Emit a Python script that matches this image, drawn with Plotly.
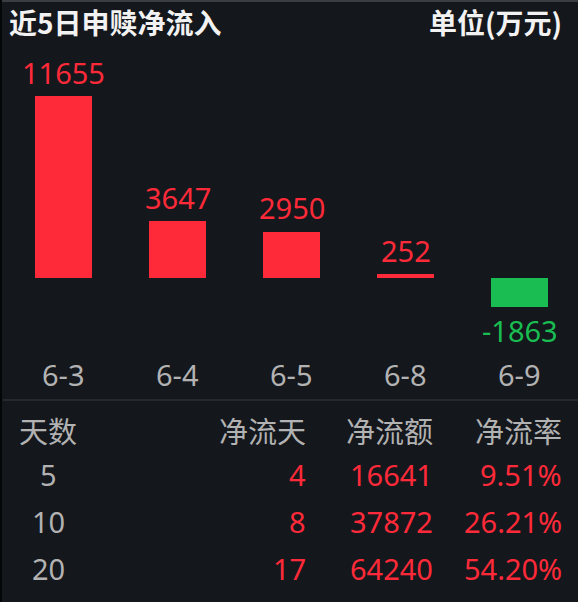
import plotly.graph_objects as go

# data
dates = ["6-3", "6-4", "6-5", "6-8", "6-9"]
net_flow = [11655, 3647, 2950, 252, -1863]

table_header = ["天数", "净流天", "净流额", "净流率"]
days = ["5", "10", "20"]
net_days = ["4", "8", "17"]
net_amount = ["16641", "37872", "64240"]
net_rate = ["9.51%", "26.21%", "54.20%"]

W, H = 578, 602
BG = "#14171c"
RED = "#fe2a39"
GREEN = "#19bd51"
GRAY = "#b2b2b2"
FONT = "Noto Sans, Noto Sans CJK SC"
SIZE = 29

colors = [RED if v >= 0 else GREEN for v in net_flow]

fig = go.Figure()
fig.add_trace(go.Bar(
    x=dates,
    y=net_flow,
    marker=dict(color=colors, line=dict(width=0)),
    width=0.5,
    hoverinfo="skip",
))

# value labels above / below the bars
for d, v, c in zip(dates, net_flow, colors):
    fig.add_annotation(
        x=d, y=v, xref="x", yref="y",
        text=str(v), showarrow=False,
        yanchor="middle",
        yshift=24 if v >= 0 else -23,
        font=dict(family=FONT, size=SIZE, color=c),
    )

# date labels
for d in dates:
    fig.add_annotation(
        x=d, y=1 - 374 / H, xref="x", yref="paper",
        text=d, showarrow=False, yanchor="middle",
        font=dict(family=FONT, size=SIZE, color=GRAY),
    )

# title and unit
fig.add_annotation(
    x=7 / W, y=1 - 22 / H, xref="paper", yref="paper",
    text="近5日申赎净流入", showarrow=False,
    xanchor="left", yanchor="middle",
    font=dict(family="Noto Sans CJK SC", size=28, color="#f2f2f2", weight="bold"),
)
fig.add_annotation(
    x=564 / W, y=1 - 22 / H, xref="paper", yref="paper",
    text="单位(万元)", showarrow=False,
    xanchor="right", yanchor="middle",
    font=dict(family="Noto Sans CJK SC", size=28, color="#f2f2f2", weight="bold"),
)

# table below the chart
col_x = [48, 308, 435, 564]
row_y = [430, 474, 521, 568]
for i, h in enumerate(table_header):
    fig.add_annotation(
        x=col_x[i] / W, y=1 - row_y[0] / H, xref="paper", yref="paper",
        text=h, showarrow=False,
        xanchor="center" if i == 0 else "right", yanchor="middle",
        font=dict(family="Noto Sans CJK SC", size=SIZE, color=GRAY),
    )
for r in range(len(days)):
    row = [days[r], net_days[r], net_amount[r], net_rate[r]]
    for i, t in enumerate(row):
        fig.add_annotation(
            x=col_x[i] / W, y=1 - row_y[r + 1] / H, xref="paper", yref="paper",
            text=t, showarrow=False,
            xanchor="center" if i == 0 else "right", yanchor="middle",
            font=dict(family=FONT, size=SIZE, color=GRAY if i == 0 else RED),
        )

# separator and frame edges
fig.add_shape(type="line", xref="paper", yref="paper",
              x0=3 / W, x1=1, y0=1 - 400 / H, y1=1 - 400 / H,
              line=dict(color="#2e3137", width=1.5))
fig.add_shape(type="line", xref="paper", yref="paper",
              x0=0, x1=1, y0=1 - 1 / H, y1=1 - 1 / H,
              line=dict(color="#3a3d42", width=2))
fig.add_shape(type="line", xref="paper", yref="paper",
              x0=1 / W, x1=1 / W, y0=0, y1=1,
              line=dict(color="#050607", width=2))

# zero line at 278px from top, 182px for 11655
px_per_unit = 182 / 11655
fig.update_yaxes(
    range=[-(H - 278) / px_per_unit, 278 / px_per_unit],
    visible=False, fixedrange=True,
)
fig.update_xaxes(
    domain=[6.5 / W, 576.5 / W],
    visible=False, fixedrange=True,
)
fig.update_layout(
    width=W, height=H,
    margin=dict(l=0, r=0, t=0, b=0),
    paper_bgcolor=BG, plot_bgcolor=BG,
    showlegend=False, bargap=0.5,
)

fig.write_html(
    "out.html",
    config={"displayModeBar": False},
    post_script="document.body.style.margin='0';document.body.style.background='#14171c';",
)
